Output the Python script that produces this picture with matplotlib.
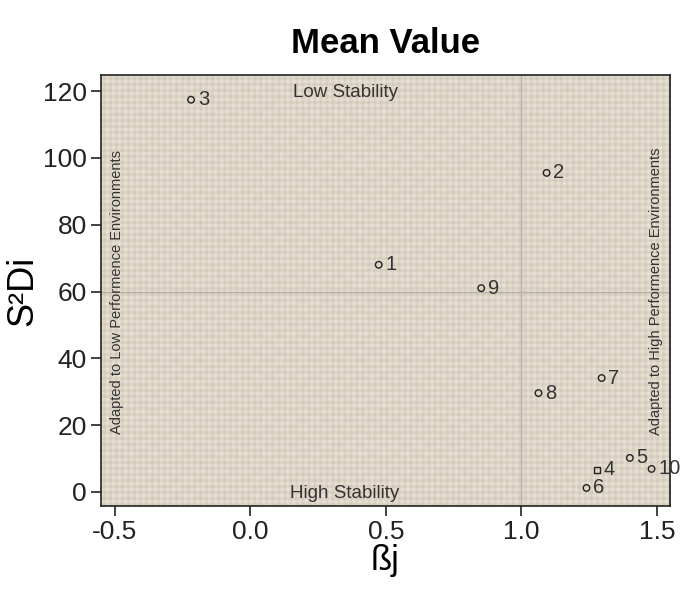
import matplotlib
import numpy as np
import matplotlib.pyplot as plt
from matplotlib.colors import LinearSegmentedColormap

matplotlib.use('Agg')

plt.rcParams['font.family'] = ['Liberation Sans', 'DejaVu Sans']

genotypes = ['1', '2', '3', '4', '5', '6', '7', '8', '9', '10']
bi = [0.474, 1.093, -0.218, 1.278, 1.40, 1.24, 1.296, 1.063, 0.852, 1.48]
s2di = [68.0, 95.5, 117.4, 6.6, 10.2, 1.2, 34.1, 29.6, 61.0, 6.9]
markers = ['o', 'o', 'o', 's', 'o', 'o', 'o', 'o', 'o', 'o']

mean_bi = 1.0
mean_s2di = 60.0

xmin, xmax = -0.55, 1.548
ymin, ymax = -4.2, 124.8

fig = plt.figure(figsize=(6.81, 5.94), dpi=100)
ax = fig.add_axes([101 / 681, 88 / 594, 569 / 681, 431 / 594])

# linen-like background weave (purely decorative)
yy, xx = np.mgrid[0:431, 0:569]
weave = 0.5 + 0.22 * np.cos(2 * np.pi * xx / 6.0) + 0.22 * np.cos(2 * np.pi * yy / 6.0) \
    + 0.08 * np.sin(2 * np.pi * xx / 23.0) * np.sin(2 * np.pi * yy / 17.0)
linen = LinearSegmentedColormap.from_list('linen', ['#cfc6b4', '#ddd5c7', '#ebe5da'])
ax.imshow(weave, cmap=linen, extent=(xmin, xmax, ymin, ymax), aspect='auto',
          interpolation='bilinear', zorder=0)

ax.axvline(mean_bi, color='#b4b0a8', lw=1, zorder=1)
ax.axhline(mean_s2di, color='#b4b0a8', lw=1, zorder=1)

for x, y, m, g in zip(bi, s2di, markers, genotypes):
    ax.scatter(x, y, marker=m, s=22, facecolors='none', edgecolors='#222222', linewidths=1, zorder=3)
    ax.text(x + 0.025, y, g, fontsize=14.5, color='#333333', va='center', ha='left', clip_on=False, zorder=4)

ax.text(0.35, 119.5, 'Low Stability', fontsize=13.5, color='#333333', ha='center', va='center')
ax.text(0.35, -0.5, 'High Stability', fontsize=13.5, color='#333333', ha='center', va='center')
ax.text(-0.49, 60, 'Adapted to Low Performence Environments', fontsize=10.5, color='#333333',
        rotation=90, ha='center', va='center')
ax.text(1.495, 60, 'Adapted to High Performence Environments', fontsize=10.5, color='#333333',
        rotation=90, ha='center', va='center')

ax.set_xlim(xmin, xmax)
ax.set_ylim(ymin, ymax)
ax.set_xticks([-0.5, 0.0, 0.5, 1.0, 1.5])
ax.set_xticklabels(['-0.5', '0.0', '0.5', '1.0', '1.5'])
ax.set_yticks([0, 20, 40, 60, 80, 100, 120])
ax.tick_params(labelsize=19, length=7, width=1.2, colors='#222222', pad=3)
for s in ax.spines.values():
    s.set_linewidth(1.2)
    s.set_color('#222222')

ax.set_xlabel('ßj', fontsize=25, labelpad=0)
ax.set_ylabel('S²Di', fontsize=26, labelpad=2)
ax.set_title('Mean Value', fontsize=25, fontweight='bold', pad=16)

fig.savefig('out.png', dpi=100, facecolor='white')
